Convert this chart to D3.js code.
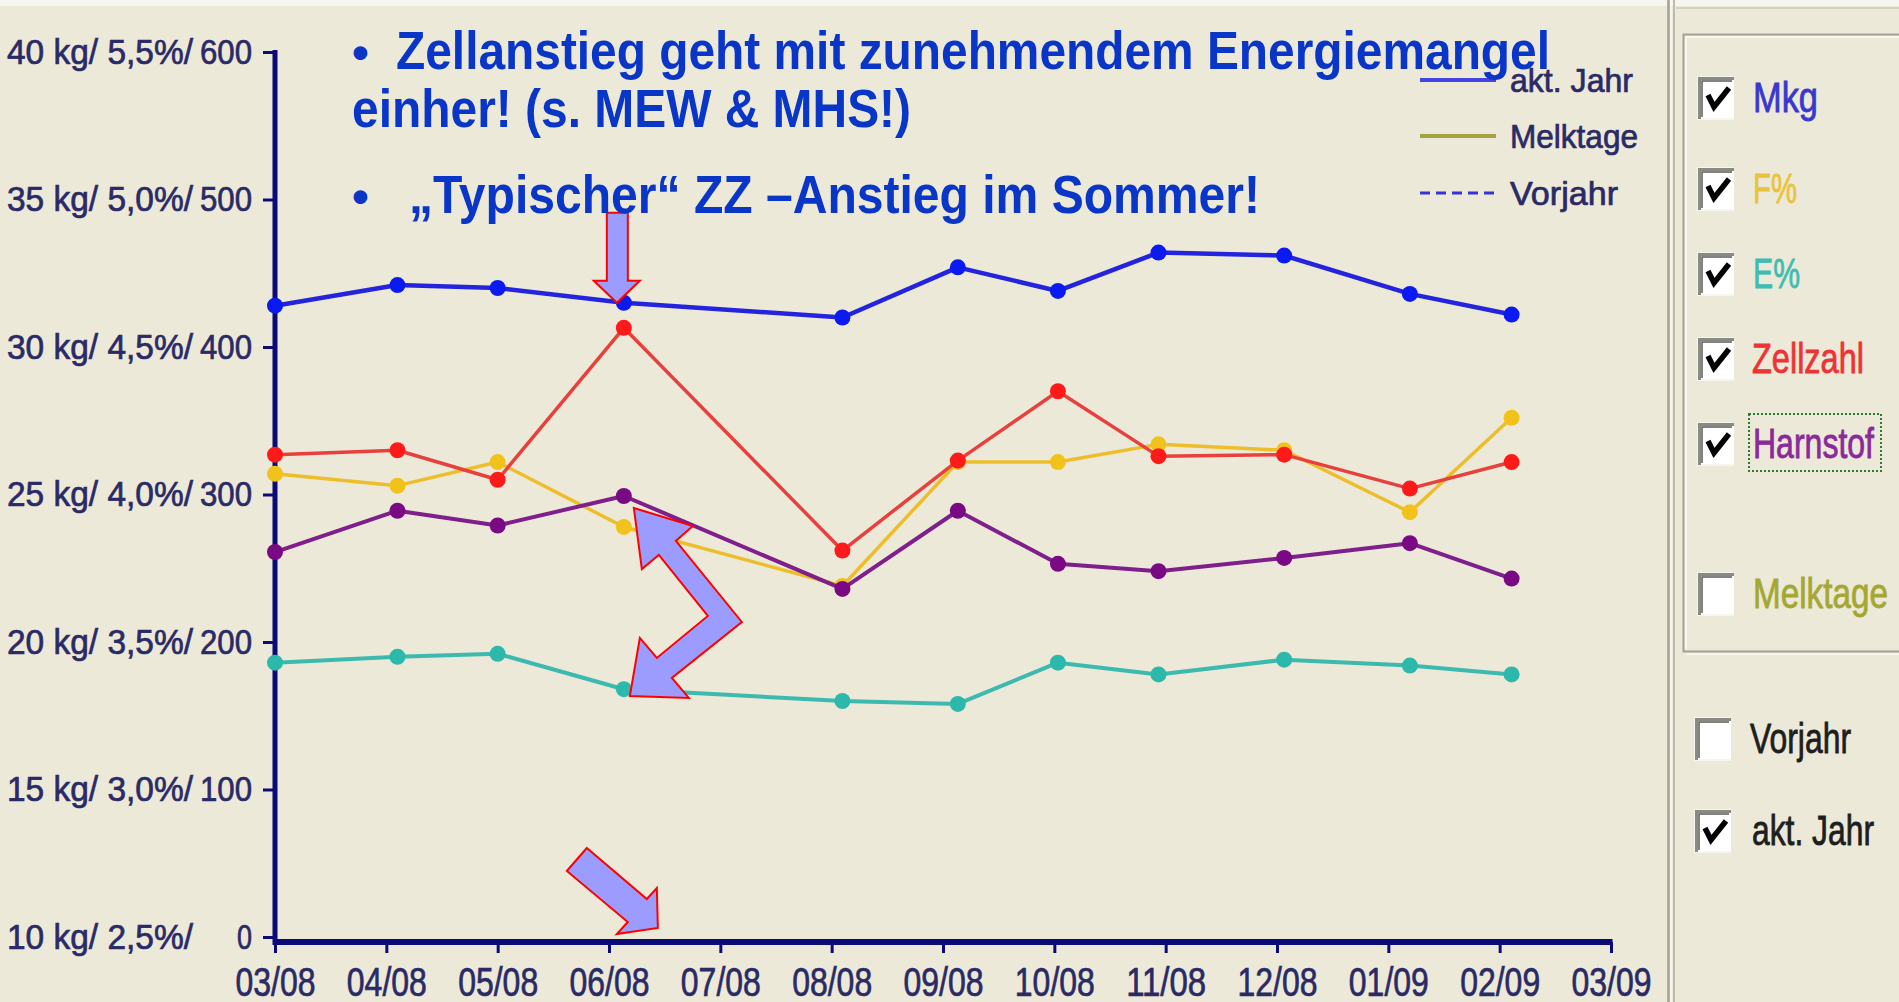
<!DOCTYPE html>
<html>
<head>
<meta charset="utf-8">
<script src="https://cdn.jsdelivr.net/npm/d3@7"></script>
<style>
  html, body { margin: 0; padding: 0; background: #ECE9D8; overflow: hidden; }
  svg { display: block; }
  text { font-family: "Liberation Sans", Arial, sans-serif; }
</style>
</head>
<body>
<svg id="chart" width="1899" height="1002"></svg>
<script>
// ---- data: monthly milk recording (Milchleistungsprüfung) ----
const testDates = ["2008-03-01", "2008-04-04", "2008-05-01", "2008-06-05", "2008-08-04",
                   "2008-09-05", "2008-10-02", "2008-10-30", "2008-12-03", "2009-01-07", "2009-02-04"];
const mkg       = [31.4, 32.1, 32.0, 31.5, 31.0, 32.7, 31.9, 33.2, 33.1, 31.8, 31.1];     // kg milk
const fettPct   = [4.07, 4.03, 4.11, 3.89, 3.69, 4.11, 4.11, 4.17, 4.15, 3.94, 4.26];     // F%
const eiweissPct= [3.43, 3.45, 3.46, 3.34, 3.30, 3.29, 3.43, 3.39, 3.44, 3.42, 3.39];     // E%
const zellzahl  = [327, 330, 310, 413, 262, 323, 370, 326, 327, 304, 322];               // 1000/ml
const harnstoff = [261, 289, 279, 299, 236, 289, 253, 248, 257, 267, 243];               // ppm

const monthLabels = ["03/08", "04/08", "05/08", "06/08", "07/08", "08/08", "09/08",
                     "10/08", "11/08", "12/08", "01/09", "02/09", "03/09"];
const kgTicks   = [10, 15, 20, 25, 30, 35, 40];
const pctTicks  = ["2,5", "3,0", "3,5", "4,0", "4,5", "5,0", "5,5"];
const cellTicks = [0, 100, 200, 300, 400, 500, 600];

const panelNames   = ["Mkg", "F%", "E%", "Zellzahl", "Harnstof", "Melktage", "Vorjahr", "akt. Jahr"];
const panelChecked = [true, true, true, true, true, false, false, true];
const legendNames  = ["akt. Jahr", "Melktage", "Vorjahr"];

// ---- layout ----
const NAVY = "#0B0B78";
const TEXT = "#2A2A66";
const svg = d3.select("#chart");

const startMonth = new Date(2008, 2, 1);
function monthPos(s) {
  const d = d3.timeParse("%Y-%m-%d")(s);
  const m0 = d3.timeMonth.floor(d);
  const len = d3.timeDay.count(m0, d3.timeMonth.offset(m0, 1));
  return d3.timeMonth.count(startMonth, m0) + (d.getDate() - 1) / len;
}
const xPos = testDates.map(monthPos);

const x = d3.scaleLinear().domain([0, 12]).range([275, 1611]);
const yCells = d3.scaleLinear().domain([0, 600]).range([937, 52]);
const yKg = d3.scaleLinear().domain([10, 40]).range([937, 52]);
const yPct = d3.scaleLinear().domain([2.5, 5.5]).range([937, 52]);

// ---- background & window frame ----
svg.append("rect").attr("width", 1899).attr("height", 1002).attr("fill", "#ECE9D8");
svg.append("rect").attr("width", 1899).attr("height", 6).attr("fill", "#F7F5EF");
svg.append("line").attr("x1", 1676).attr("x2", 1899).attr("y1", 8).attr("y2", 8)
  .attr("stroke", "#D4D1C2").attr("stroke-width", 2);
svg.append("line").attr("x1", 1668.5).attr("x2", 1668.5).attr("y1", 0).attr("y2", 1002)
  .attr("stroke", "#A3A195").attr("stroke-width", 2.5);
svg.append("line").attr("x1", 1671).attr("x2", 1671).attr("y1", 0).attr("y2", 1002)
  .attr("stroke", "#FAF9F4").attr("stroke-width", 1.5);
svg.append("line").attr("x1", 1674).attr("x2", 1674).attr("y1", 0).attr("y2", 1002)
  .attr("stroke", "#BDBAAD").attr("stroke-width", 2);

// group box on the right
svg.append("path").attr("d", "M1905,34.5H1683.5V651.5H1905")
  .attr("fill", "none").attr("stroke", "#A4A296").attr("stroke-width", 2);
svg.append("path").attr("d", "M1905,37H1686V649")
  .attr("fill", "none").attr("stroke", "#FBFAF5").attr("stroke-width", 1.5);
svg.append("path").attr("d", "M1686,654H1905")
  .attr("fill", "none").attr("stroke", "#FBFAF5").attr("stroke-width", 1.5);

// ---- axes ----
const gy = svg.append("g").attr("transform", `translate(${x(0)},0)`)
  .call(d3.axisLeft(yCells).tickValues(cellTicks).tickSize(12).tickSizeOuter(0).tickFormat(""));
gy.select(".domain").remove();
gy.selectAll(".tick line").attr("stroke", NAVY).attr("stroke-width", 3);

const gx = svg.append("g").attr("transform", `translate(0,${yCells(0) + 5})`)
  .call(d3.axisBottom(x).tickValues(d3.range(13)).tickSize(11).tickSizeOuter(0)
    .tickFormat(i => monthLabels[i]));
gx.select(".domain").remove();
gx.selectAll(".tick line").attr("stroke", NAVY).attr("stroke-width", 3);
gx.selectAll(".tick text")
  .attr("y", 54).attr("dy", null)
  .attr("font-size", 40).attr("fill", TEXT)
  .attr("stroke", TEXT).attr("stroke-width", 0.7)
  .attr("textLength", 80).attr("lengthAdjust", "spacingAndGlyphs");

// axis lines
svg.append("line").attr("x1", x(0)).attr("x2", x(0))
  .attr("y1", yCells(600) - 2).attr("y2", yCells(0) + 8)
  .attr("stroke", NAVY).attr("stroke-width", 5);
svg.append("line").attr("x1", x(0) - 2).attr("x2", x(12) + 1.5)
  .attr("y1", yCells(0) + 5).attr("y2", yCells(0) + 5)
  .attr("stroke", NAVY).attr("stroke-width", 6);

// combined y tick labels: kg / % / cells
cellTicks.forEach((v, i) => {
  const yy = yCells(v) + 11.5;
  svg.append("text").attr("x", 7).attr("y", yy)
    .attr("font-size", 35).attr("fill", TEXT)
    .attr("stroke", TEXT).attr("stroke-width", 0.7)
    .attr("textLength", 186).attr("lengthAdjust", "spacingAndGlyphs")
    .text(`${kgTicks[i]} kg/ ${pctTicks[i]}%/`);
  const s = String(v);
  svg.append("text").attr("x", 252).attr("y", yy)
    .attr("text-anchor", "end")
    .attr("font-size", 35).attr("fill", TEXT)
    .attr("stroke", TEXT).attr("stroke-width", 0.7)
    .attr("textLength", s.length === 1 ? 15 : 17.4 * s.length - 0.2)
    .attr("lengthAdjust", "spacingAndGlyphs")
    .text(s);
});

// ---- series ----
const series = [
  { values: mkg,        y: yKg,    line: "#2424DE", dot: "#0A1AF0", w: 4.5 },
  { values: fettPct,    y: yPct,   line: "#EDBE2A", dot: "#F2C21C", w: 3.5 },
  { values: eiweissPct, y: yPct,   line: "#3CBAB0", dot: "#2DB8AC", w: 4 },
  { values: zellzahl,   y: yCells, line: "#E8403C", dot: "#FF1A1A", w: 3.5 },
  { values: harnstoff,  y: yCells, line: "#7E1F8C", dot: "#7A0A84", w: 4 }
];

series.forEach(s => {
  const pts = s.values.map((v, i) => [x(xPos[i]), s.y(v)]);
  svg.append("path").attr("d", d3.line()(pts))
    .attr("fill", "none").attr("stroke", s.line).attr("stroke-width", s.w)
    .attr("stroke-linejoin", "round");
  svg.append("g").selectAll("circle").data(pts).join("circle")
    .attr("cx", d => d[0]).attr("cy", d => d[1]).attr("r", 8)
    .attr("fill", s.dot);
});

// ---- legend inside the plot ----
const legendStyles = [
  { color: "#4444E2", dash: null, w: 4 },
  { color: "#A2A23E", dash: null, w: 4 },
  { color: "#3434D6", dash: "10,6", w: 3 }
];
const legendBase = [92, 148, 205];
const legendWidth = [123, 128, 108];
legendNames.forEach((name, i) => {
  svg.append("line").attr("x1", 1420).attr("x2", 1496)
    .attr("y1", legendBase[i] - 12).attr("y2", legendBase[i] - 12)
    .attr("stroke", legendStyles[i].color).attr("stroke-width", legendStyles[i].w)
    .attr("stroke-dasharray", legendStyles[i].dash);
  svg.append("text").attr("x", 1510).attr("y", legendBase[i])
    .attr("font-size", 33).attr("fill", TEXT)
    .attr("stroke", TEXT).attr("stroke-width", 0.7)
    .attr("textLength", legendWidth[i]).attr("lengthAdjust", "spacingAndGlyphs")
    .text(name);
});

// ---- selection panel ----
const panelColors = ["#3838CE", "#EAC33C", "#3EBDB3", "#EC3434", "#8A2A9A", "#A4A832", "#1E1E1E", "#1E1E1E"];
const boxTop   = [77, 168, 253, 338, 423, 573, 718, 810];
const boxLeft  = [1698, 1698, 1698, 1698, 1698, 1698, 1695, 1695];
const labelX   = [1753, 1753, 1753, 1752, 1753, 1753, 1750, 1752];
const labelW   = [65, 44, 47, 112, 121, 135, 101, 122];
panelNames.forEach((name, i) => {
  const bx = boxLeft[i], by = boxTop[i], bw = 36, bh = 42;
  const g = svg.append("g");
  g.append("rect").attr("x", bx).attr("y", by).attr("width", bw).attr("height", bh)
    .attr("fill", "#FFFFFF");
  g.append("path").attr("d", `M${bx + bw},${by + bh}H${bx}V${by}H${bx + bw}`)
    .attr("fill", "none").attr("stroke", "#F6F5EE").attr("stroke-width", 2);
  g.append("path").attr("d", `M${bx + 1.5},${by + bh}V${by + 1.5}H${bx + bw}`)
    .attr("fill", "none").attr("stroke", "#8A8A84").attr("stroke-width", 3);
  g.append("path").attr("d", `M${bx + 4},${by + bh - 2}V${by + 4}H${bx + bw - 2}`)
    .attr("fill", "none").attr("stroke", "#5A5A55").attr("stroke-width", 1.5);
  if (panelChecked[i]) {
    g.append("path")
      .attr("d", `M${bx + 10},${by + 18}L${bx + 16},${by + 30}L${bx + 31},${by + 11}`)
      .attr("fill", "none").attr("stroke", "#000").attr("stroke-width", 5.5)
      .attr("stroke-linejoin", "miter");
  }
  const baseline = by + bh - 7;
  g.append("text").attr("x", labelX[i]).attr("y", baseline)
    .attr("font-size", 42).attr("fill", panelColors[i])
    .attr("stroke", panelColors[i]).attr("stroke-width", 0.8)
    .attr("textLength", labelW[i]).attr("lengthAdjust", "spacingAndGlyphs")
    .text(name);
  if (name === "Harnstof") {
    g.append("rect").attr("x", labelX[i] - 4).attr("y", by - 9)
      .attr("width", labelW[i] + 11).attr("height", bh + 15)
      .attr("fill", "none").attr("stroke", "#2E7A2E").attr("stroke-width", 2)
      .attr("stroke-dasharray", "2,2");
  }
});

// ---- annotation arrows (anchored to the June values) ----
const arrowFill = "#9C9CFF", arrowStroke = "#FF0000";
function arrow(anchor, offsets) {
  const pts = offsets.map(o => [anchor[0] + o[0], anchor[1] + o[1]]);
  svg.append("path").attr("d", d3.line()(pts) + "Z")
    .attr("fill", arrowFill).attr("stroke", arrowStroke).attr("stroke-width", 2)
    .attr("stroke-linejoin", "miter");
}
const xJun = x(xPos[3]);
arrow([xJun, yKg(mkg[3])],
  [[-17, -90], [4, -90], [4, -22], [16, -22], [-7, 0], [-30, -22], [-17, -22]]);
arrow([xJun, yCells(harnstoff[3])],
  [[10, 12], [69, 30], [52, 45], [118, 126], [48, 182], [65, 202], [6, 200],
   [16, 142], [33, 162], [84, 120], [35, 59], [18, 73]]);
arrow([xJun, yCells(0)],
  [[-37, -89], [23, -38], [33, -49], [34, -9], [-7, -3], [4, -15], [-57, -66]]);

// ---- headline notes ----
const HEAD = "#0A36C8";
const head = svg.append("g").attr("font-weight", "bold").attr("fill", HEAD).attr("font-size", 53);
head.append("text").attr("x", 352).attr("y", 69).attr("font-size", 48).text("•");
head.append("text").attr("x", 396).attr("y", 69)
  .attr("textLength", 1154).attr("lengthAdjust", "spacingAndGlyphs")
  .text("Zellanstieg geht mit zunehmendem Energiemangel");
head.append("text").attr("x", 352).attr("y", 127)
  .attr("textLength", 559).attr("lengthAdjust", "spacingAndGlyphs")
  .text("einher! (s. MEW & MHS!)");
head.append("text").attr("x", 352).attr("y", 213).attr("font-size", 48).text("•");
head.append("text").attr("x", 409).attr("y", 213)
  .attr("textLength", 851).attr("lengthAdjust", "spacingAndGlyphs")
  .text("„Typischer“ ZZ –Anstieg im Sommer!");
</script>
</body>
</html>
